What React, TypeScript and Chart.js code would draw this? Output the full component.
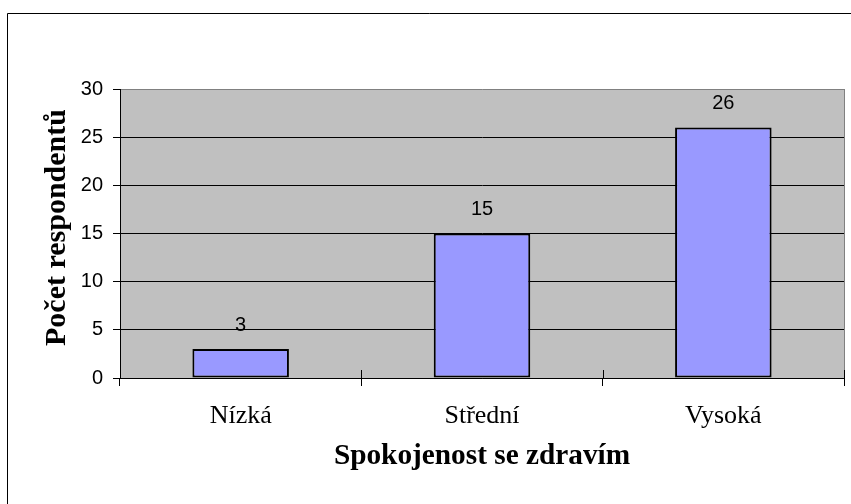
import React, { useEffect, useRef } from "react";
import { Chart, registerables } from "chart.js";

Chart.register(...registerables);

const categories = ["Nízká", "Střední", "Vysoká"];
const respondents = [3, 15, 26];
const yTicks = { min: 0, max: 30, step: 5 };
const xTitle = "Spokojenost se zdravím";
const yTitle = "Počet respondentů";

const SERIF = "'Liberation Serif', 'Times New Roman', serif";
const SANS = "'Liberation Sans', Arial, sans-serif";

const backgroundPlugin = {
  id: "plotBg",
  beforeDraw(chart: any) {
    const { ctx, chartArea: a } = chart;
    ctx.save();
    ctx.fillStyle = "#ffffff";
    ctx.fillRect(0, 0, chart.width, chart.height);
    ctx.fillStyle = "#c0c0c0";
    ctx.fillRect(a.left, a.top, a.right - a.left, a.bottom - a.top);
    ctx.restore();
  },
  afterDraw(chart: any) {
    const { ctx, chartArea: a } = chart;
    ctx.save();
    // plot area right border (gray)
    ctx.strokeStyle = "#808080";
    ctx.lineWidth = 1;
    ctx.beginPath();
    ctx.moveTo(Math.round(a.right) + 0.5, a.top);
    ctx.lineTo(Math.round(a.right) + 0.5, a.bottom);
    ctx.stroke();
    // x-axis tick marks crossing the axis upward
    const xs = chart.scales.x;
    const n = categories.length;
    ctx.strokeStyle = "#000";
    ctx.beginPath();
    for (let i = 1; i <= n; i++) {
      const x = Math.round(xs.left + (i * (xs.right - xs.left)) / n) + 0.5;
      ctx.moveTo(x, a.bottom - 8);
      ctx.lineTo(x, a.bottom);
    }
    ctx.stroke();
    // y-axis title
    ctx.fillStyle = "#000";
    ctx.font = `bold 30px ${SERIF}`;
    ctx.textAlign = "center";
    ctx.textBaseline = "middle";
    ctx.translate(57, (a.top + a.bottom) / 2 - 6);
    ctx.rotate(-Math.PI / 2);
    ctx.fillText(yTitle, 0, 0);
    ctx.setTransform(1, 0, 0, 1, 0, 0);
    // outer chart border
    ctx.strokeStyle = "#000";
    ctx.beginPath();
    ctx.moveTo(7.5, chart.height + 2);
    ctx.lineTo(7.5, 13.5);
    ctx.lineTo(chart.width + 2, 13.5);
    ctx.stroke();
    ctx.restore();
  },
};

const valueLabelPlugin = {
  id: "valueLabels",
  afterDatasetsDraw(chart: any) {
    const { ctx } = chart;
    const meta = chart.getDatasetMeta(0);
    ctx.save();
    ctx.fillStyle = "#000";
    ctx.font = `20px ${SANS}`;
    ctx.textAlign = "center";
    ctx.textBaseline = "middle";
    meta.data.forEach((bar: any, i: number) => {
      ctx.fillText(String(respondents[i]), bar.x, bar.y - 24);
    });
    ctx.restore();
  },
};

export default function App() {
  const ref = useRef<HTMLCanvasElement | null>(null);
  useEffect(() => {
    if (!ref.current) return;
    const chart = new Chart(ref.current, {
      type: "bar",
      data: {
        labels: categories,
        datasets: [
          {
            data: respondents,
            backgroundColor: "#9999ff",
            borderColor: "#000000",
            borderWidth: 2,
            borderSkipped: false,
            barPercentage: 0.4,
            categoryPercentage: 1,
          },
        ],
      },
      options: {
        responsive: false,
        animation: false,
        devicePixelRatio: 1,
        layout: { padding: { top: 89, right: 7, left: 0, bottom: 0 } },
        plugins: {
          legend: { display: false },
          tooltip: { enabled: false },
        },
        scales: {
          x: {
            afterFit(scale: any) {
              scale.height = 126;
            },
            grid: {
              offset: true,
              drawOnChartArea: false,
              drawTicks: true,
              tickLength: 8,
              color: "#000",
              tickColor: "#000",
            },
            border: { display: true, color: "#000", width: 1 },
            ticks: {
              color: "#000",
              font: { family: SERIF, size: 26 },
              padding: 15,
              maxRotation: 0,
            },
            title: {
              display: true,
              text: xTitle,
              color: "#000",
              font: { family: SERIF, size: 29.3, weight: "bold" },
              padding: { top: 0, bottom: 30 },
            },
          },
          y: {
            min: yTicks.min,
            max: yTicks.max,
            afterFit(scale: any) {
              scale.width = 120;
            },
            grid: {
              color: (c: any) => (c.tick && c.tick.value === yTicks.max ? "#808080" : "#000"),
              tickColor: "#000",
              tickLength: 7,
              lineWidth: 1,
            },
            border: { display: true, color: "#000", width: 1 },
            ticks: {
              stepSize: yTicks.step,
              color: "#000",
              font: { family: SANS, size: 20 },
              padding: 10,
            },
            title: { display: false },
          },
        },
      },
      plugins: [backgroundPlugin, valueLabelPlugin],
    });
    return () => chart.destroy();
  }, []);
  return (
    <div style={{ position: "absolute", left: 0, top: 0, width: 851, height: 504 }}>
      <canvas ref={ref} width={851} height={504} style={{ display: "block" }} />
    </div>
  );
}
